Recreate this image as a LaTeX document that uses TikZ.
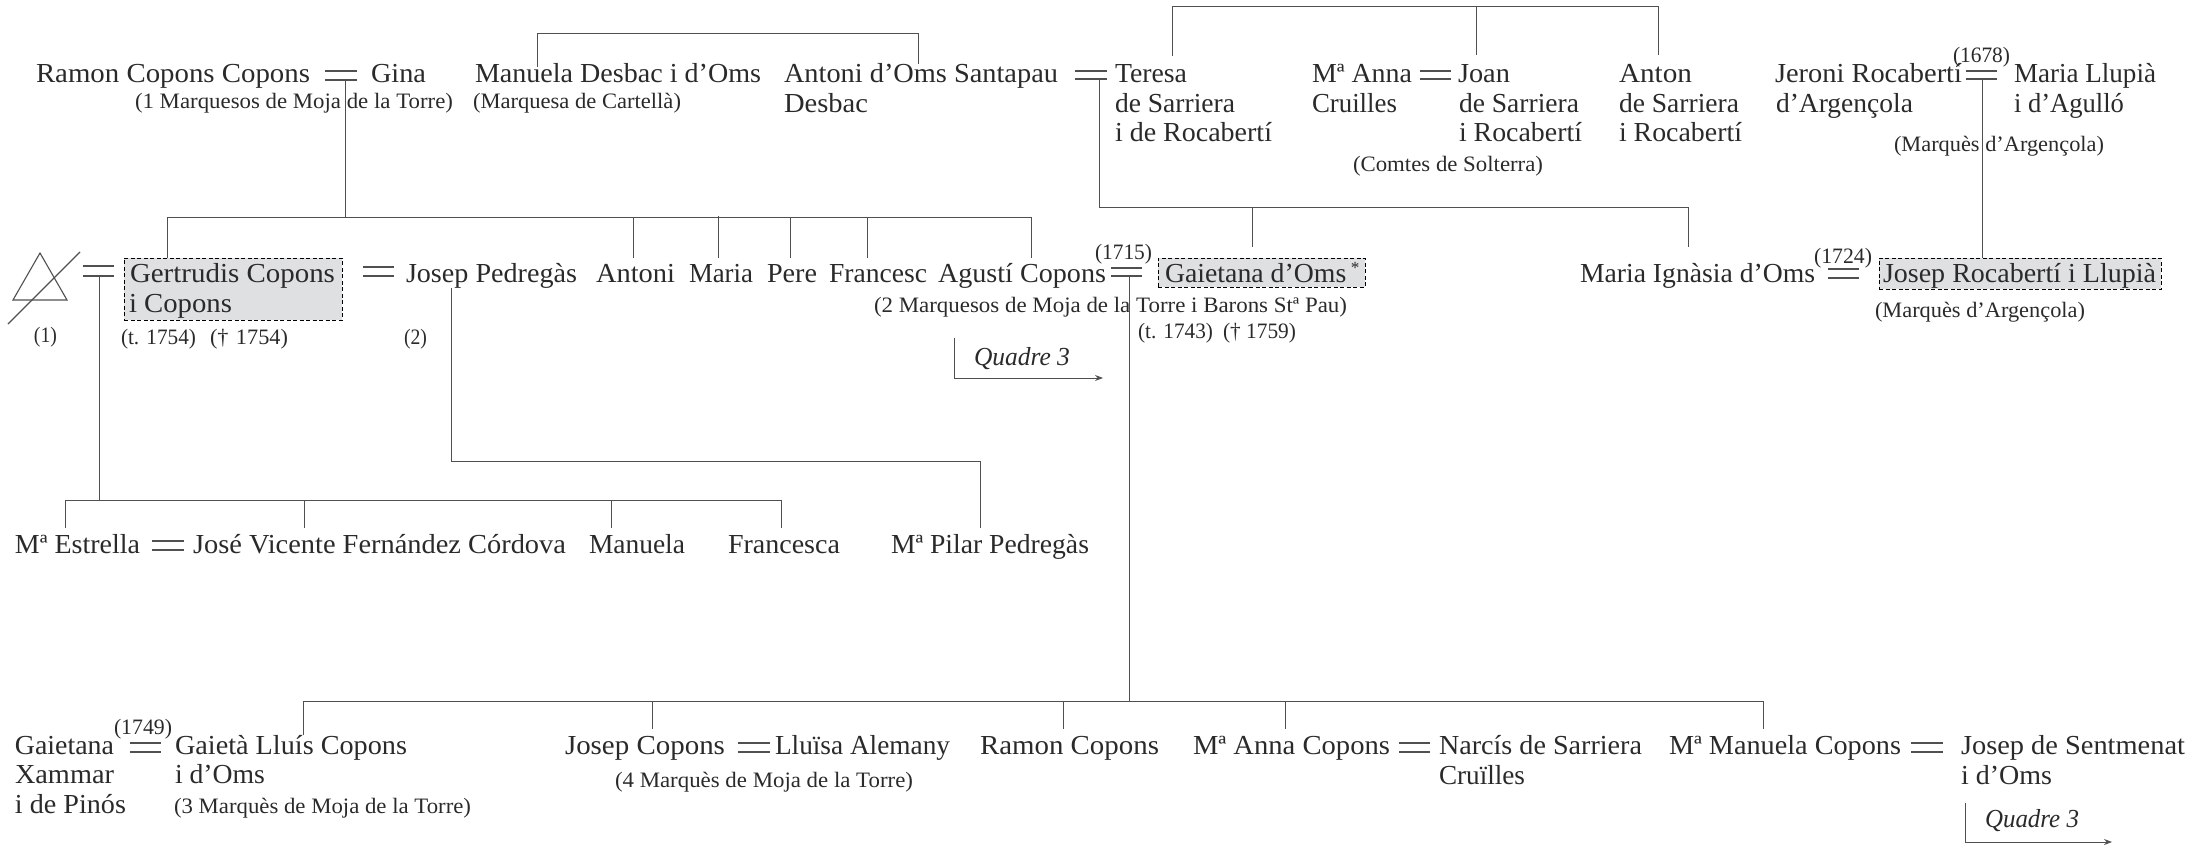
\documentclass[tikz,border=0pt]{standalone}
\usepackage{fontspec}
\usepackage{graphicx}
\setmainfont{Liberation Serif}
\usetikzlibrary{arrows.meta}
\definecolor{ink}{HTML}{2A2A2A}
\definecolor{wire}{HTML}{505050}
\definecolor{shade}{HTML}{DFE0E2}
\newsavebox\fitbox
\newcommand\fitw[2]{\sbox\fitbox{#2}\pgfmathsetmacro\fitr{#1/\wd\fitbox}\scalebox{\fitr}[1]{\usebox\fitbox}}
\tikzset{
  x=1pt,y=-1pt,
  persontext/.style={anchor=base west,inner sep=0pt,outer sep=0pt,text=ink,font=\fontsize{27.5}{30}\selectfont},
  notetext/.style={persontext,font=\fontsize{22}{24}\selectfont},
  reftext/.style={persontext,font=\fontsize{26}{28}\itshape\selectfont},
  wireline/.style={draw=wire,line width=1pt},
  couple/.style={draw=wire,line width=1.1pt},
  kinbox/.style={draw=black,dash pattern=on 4pt off 2.5pt,line width=0.9pt,fill=shade,inner sep=0pt,minimum width=#1},
  pointer/.style={wireline,-{Stealth[length=8pt,width=6pt]}}
}
% \Nm{id}{x}{baseline}{x end}{text}
\newcommand\Nm[5]{\pgfmathsetmacro\fitwd{#4-#2}\node[persontext] (#1) at (#2,#3) {\fitw{\fitwd}{#5}};}
\newcommand\Nt[5]{\pgfmathsetmacro\fitwd{#4-#2}\node[notetext] (#1) at (#2,#3) {\fitw{\fitwd}{#5}};}
\newcommand\Qd[5]{\pgfmathsetmacro\fitwd{#4-#2}\node[reftext] (#1) at (#2,#3) {\fitw{\fitwd}{#5}};}
% \Eq{id}{x1}{x2}{y1}{y2}: marriage sign with named ends
\newcommand\Eq[5]{\coordinate (#1a) at (#2,#4);\coordinate (#1b) at (#3,#4);\coordinate (#1c) at (#2,#5);\coordinate (#1d) at (#3,#5);\draw[couple] (#1a) -- (#1b);\draw[couple] (#1c) -- (#1d);}
\begin{document}
\begin{tikzpicture}
\useasboundingbox (0,0) rectangle (2196,845);
% shaded boxes
\node[kinbox=218pt,minimum height=62pt] (boxG) at (233,289) {};
\node[kinbox=207pt,minimum height=29pt] (boxO) at (1261.5,272.5) {};
\node[kinbox=282pt,minimum height=31pt] (boxR) at (2020,273.5) {};
% row 1
\Nm{ramon}{36}{83}{310}{Ramon Copons Copons}
\Nm{gina}{371}{83}{426}{Gina}
\Nt{marq1}{135}{109}{453}{(1 Marquesos de Moja de la Torre)}
\Nm{manuela}{475}{83}{761}{Manuela Desbac i d’Oms}
\Nt{cartella}{473}{109}{681}{(Marquesa de Cartellà)}
\Nm{antoni}{784}{83}{1058}{Antoni d’Oms Santapau}
\Nm{desbac}{784}{113}{868}{Desbac}
\Nm{teresa}{1115}{83}{1187}{Teresa}
\Nm{teresaB}{1115}{113}{1235}{de Sarriera}
\Nm{teresaC}{1115}{142}{1272}{i de Rocabertí}
\Nm{anna}{1312}{83}{1412}{Mª Anna}
\Nm{annaB}{1312}{113}{1397}{Cruilles}
\Nm{joan}{1458}{83}{1510}{Joan}
\Nm{joanB}{1459}{113}{1579}{de Sarriera}
\Nm{joanC}{1459}{142}{1582}{i Rocabertí}
\Nt{comtes}{1353}{172}{1543}{(Comtes de Solterra)}
\Nm{anton}{1619}{83}{1692}{Anton}
\Nm{antonB}{1619}{113}{1739}{de Sarriera}
\Nm{antonC}{1619}{142}{1742}{i Rocabertí}
\Nm{jeroni}{1775}{83}{1962}{Jeroni Rocabertí}
\Nm{jeroniB}{1776}{113}{1913}{d’Argençola}
\Nt{y1678}{1953}{63}{2010}{(1678)}
\Nm{llupia}{2014}{83}{2156}{Maria Llupià}
\Nm{llupiaB}{2014}{113}{2124}{i d’Agulló}
\Nt{argA}{1894}{152}{2104}{(Marquès d’Argençola)}
% row 2
\Nt{one}{34}{342}{57}{(1)}
\Nm{gert}{130}{282}{335}{Gertrudis Copons}
\Nm{gertB}{129}{312}{232}{i Copons}
\Nt{gertC}{121}{344}{196}{(t. 1754)}
\Nt{gertD}{210}{344}{288}{(†\,\,1754)}
\Nm{pedregas}{406}{283}{577}{Josep Pedregàs}
\Nt{two}{404}{344}{427}{(2)}
\Nm{antoniB}{596}{283}{675}{Antoni}
\Nm{maria}{689}{283}{753}{Maria}
\Nm{pere}{767}{283}{817}{Pere}
\Nm{francesc}{829}{283}{927}{Francesc}
\Nm{agusti}{938}{283}{1106}{Agustí Copons}
\Nt{y1715}{1095}{259}{1152}{(1715)}
\Nm{gaietana}{1165}{283}{1360}{Gaietana d’Oms\,\textsuperscript{\fontsize{17}{17}\selectfont *}}
\Nt{marq2}{874}{312}{1347}{(2 Marquesos de Moja de la Torre i Barons Stª Pau)}
\Nt{gaiC}{1138}{338}{1213}{(t. 1743)}
\Nt{gaiD}{1223}{338}{1296}{(† 1759)}
\Qd{q1}{974}{365}{1070}{Quadre 3}
\Nm{ignasia}{1580}{283}{1815}{Maria Ignàsia d’Oms}
\Nt{y1724}{1814}{263}{1872}{(1724)}
\Nm{rocab}{1883}{283}{2156}{Josep Rocabertí i Llupià}
\Nt{argB}{1875}{317}{2085}{(Marquès d’Argençola)}
% row 3
\Nm{estrella}{15}{553}{140}{Mª Estrella}
\Nm{jose}{193}{553}{566}{José Vicente Fernández Córdova}
\Nm{manuelaB}{589}{553}{685}{Manuela}
\Nm{francesca}{728}{553}{840}{Francesca}
\Nm{pilar}{891}{553}{1089}{Mª Pilar Pedregàs}
% row 4
\Nm{xam}{15}{754}{114}{Gaietana}
\Nm{xamB}{15}{783}{114}{Xammar}
\Nm{xamC}{15}{813}{126}{i de Pinós}
\Nt{y1749}{114}{734}{172}{(1749)}
\Nm{lluis}{175}{754}{407}{Gaietà Lluís Copons}
\Nm{lluisB}{175}{783}{265}{i d’Oms}
\Nt{marq3}{174}{813}{471}{(3 Marquès de Moja de la Torre)}
\Nm{josepC}{565}{754}{725}{Josep Copons}
\Nm{alemany}{775}{754}{950}{Lluïsa Alemany}
\Nt{marq4}{615}{787}{913}{(4 Marquès de Moja de la Torre)}
\Nm{ramonC}{980}{754}{1159}{Ramon Copons}
\Nm{annaC}{1193}{754}{1390}{Mª Anna Copons}
\Nm{narcis}{1439}{754}{1642}{Narcís de Sarriera}
\Nm{narcisB}{1439}{784}{1525}{Cruïlles}
\Nm{manC}{1669}{754}{1901}{Mª Manuela Copons}
\Nm{sent}{1961}{754}{2185}{Josep de Sentmenat}
\Nm{sentB}{1961}{784}{2052}{i d’Oms}
\Qd{q2}{1985}{827}{2079}{Quadre 3}
% marriage signs
\Eq{e1}{325}{357}{71}{80}
\Eq{e2}{1075}{1107}{71}{79}
\Eq{e3}{1420}{1451}{71}{79}
\Eq{e4}{1966}{1997}{71}{79}
\Eq{e5}{83}{114}{266}{276}
\Eq{e6}{363}{394}{267}{276}
\Eq{e7}{1111}{1142}{268}{276}
\Eq{e8}{1828}{1859}{269}{278}
\Eq{e9}{152}{184}{541}{550}
\Eq{e10}{130}{161}{743}{752}
\Eq{e11}{738}{770}{743}{752}
\Eq{e12}{1399}{1430}{743}{752}
\Eq{e13}{1911}{1943}{743}{752}
% crossed triangle
\draw[couple] (40,253) -- (13,300) -- (67,300) -- cycle;
\draw[couple] (80,252) -- (8,324);
% brackets, top
\coordinate (t1a) at (537,67); \coordinate (t1b) at (918,64);
\draw[wireline] (t1a) -- (537,34) -- (918,34) -- (t1b);
\coordinate (t2a) at (1172,56); \coordinate (t2b) at (1476,55); \coordinate (t2c) at (1658,55);
\draw[wireline] (t2a) -- (1172,7) -- (1658,7) -- (t2c);
\draw[wireline] (1476,7) -- (t2b);
% Ramon & Gina's children
\coordinate (j1) at (345,80); \coordinate (bus1) at (345,218);
\draw[wireline] (j1) -- (bus1);
\draw[wireline] (167,258) -- (167,218) -- (1031,218) -- (1031,258);
\draw[wireline] (633,218) -- (633,258);
\draw[wireline] (718,216) -- (718,258);
\draw[wireline] (790,218) -- (790,258);
\draw[wireline] (867,218) -- (867,258);
% Antoni & Teresa's children
\coordinate (j2) at (1099,79);
\draw[wireline] (j2) -- (1099,208) -- (1688,208) -- (1688,247);
\draw[wireline] (1252,208) -- (1252,247);
% Jeroni & Maria's son
\coordinate (j4) at (1982,79);
\draw[wireline] (j4) -- (1982,258);
% Gertrudis's first marriage
\coordinate (j5) at (99,276); \coordinate (bus5) at (99,500);
\draw[wireline] (j5) -- (bus5);
\draw[wireline] (65,528) -- (65,500) -- (781,500) -- (781,528);
\draw[wireline] (304,500) -- (304,528);
\draw[wireline] (611,500) -- (611,528);
% Gertrudis's second marriage
\coordinate (j6) at (451,288);
\draw[wireline] (j6) -- (451,461) -- (980,461) -- (980,528);
% Agustí & Gaietana's children
\coordinate (j7) at (1129,276); \coordinate (bus7) at (1129,701);
\draw[wireline] (j7) -- (bus7);
\draw[wireline] (303,735) -- (303,701) -- (1763,701) -- (1763,729);
\draw[wireline] (652,701) -- (652,729);
\draw[wireline] (1063,701) -- (1063,729);
\draw[wireline] (1285,701) -- (1285,729);
% Quadre 3 pointers
\draw[pointer] (954,338) -- (954,378) -- (1103,378);
\draw[pointer] (1965,803) -- (1965,842) -- (2112,842);
\end{tikzpicture}
\end{document}
